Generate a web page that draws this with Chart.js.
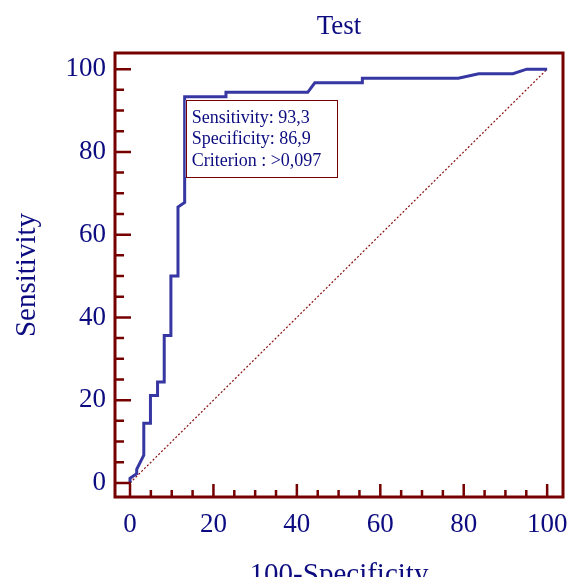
<!DOCTYPE html>
<html>
<head>
<meta charset="utf-8">
<script src="https://cdn.jsdelivr.net/npm/chart.js@4/dist/chart.umd.min.js"></script>
<style>
  html, body { margin: 0; padding: 0; background: #ffffff; }
  canvas { display: block; }
</style>
</head>
<body>
<canvas id="c" width="571" height="577"></canvas>
<script>
// ---- data ----
const chartTitle = 'Test';
const xAxisTitle = '100-Specificity';
const yAxisTitle = 'Sensitivity';
// ROC curve: 100-Specificity (x) and Sensitivity (y)
const rocX = [0, 0, 1.6, 1.6, 3.3, 3.3, 4.9, 4.9, 6.6, 6.6, 8.2, 8.2, 9.8, 9.8, 11.5, 11.5, 13.1, 13.1, 23.0, 23.0, 42.6, 44.3, 55.7, 55.7, 78.7, 83.6, 91.8, 95.1, 100];
const rocY = [0, 1.1, 2.2, 3.3, 6.7, 14.4, 14.4, 21.1, 21.1, 24.4, 24.4, 35.6, 35.6, 50.0, 50.0, 66.7, 67.8, 93.3, 93.3, 94.4, 94.4, 96.7, 96.7, 97.8, 97.8, 98.9, 98.9, 100, 100];
// reference (chance) diagonal
const diagX = [0, 100];
const diagY = [0, 100];
// tick labels
const xTicks = [0, 20, 40, 60, 80, 100];
const yTicks = [0, 20, 40, 60, 80, 100];
const minorStep = 5;
// annotation (optimal criterion)
const criterionX = 13.1;
const criterionY = 93.3;
const annotationLines = ['Sensitivity: 93,3', 'Specificity: 86,9', 'Criterion : >0,097'];

// ---- styles ----
const SERIF = '"Liberation Serif", "Times New Roman", serif';
const NAVY = '#0c0c80';
const MAROON = '#760000';
const CURVE = '#3737a3';

const rocPoints = rocX.map((x, i) => ({ x: x, y: rocY[i] }));
const diagPoints = diagX.map((x, i) => ({ x: x, y: diagY[i] }));

const framePlugin = {
  id: 'frameAndTicks',
  afterDatasetsDraw(chart) {
    const ctx = chart.ctx;
    const a = chart.chartArea;
    const xs = chart.scales.x, ys = chart.scales.y;
    ctx.save();
    // annotation box
    const bx = xs.getPixelForValue(criterionX);
    const by = ys.getPixelForValue(criterionY) + 3;
    const bw = 151, bh = 77;
    ctx.fillStyle = '#ffffff';
    ctx.fillRect(bx + 1, by, bw, bh);
    ctx.strokeStyle = MAROON;
    ctx.lineWidth = 1;
    ctx.strokeRect(Math.round(bx + 1) + 0.5, Math.round(by) + 0.5, bw, bh);
    ctx.fillStyle = NAVY;
    ctx.font = '18px ' + SERIF;
    ctx.textBaseline = 'middle';
    ctx.textAlign = 'left';
    annotationLines.forEach((t, i) => {
      ctx.fillText(t, bx + 7, by + 18 + i * 21.6);
    });
    // ticks (inward)
    ctx.strokeStyle = MAROON;
    ctx.lineWidth = 2.5;
    ctx.beginPath();
    for (let v = 0; v <= 100 + 1e-9; v += minorStep) {
      const major = yTicks.includes(v);
      const py = ys.getPixelForValue(v);
      ctx.moveTo(a.left, py);
      ctx.lineTo(a.left + (major ? 16 : 9), py);
      const px = xs.getPixelForValue(v);
      ctx.moveTo(px, a.bottom);
      ctx.lineTo(px, a.bottom - (major ? 13 : 7));
    }
    ctx.stroke();
    // frame
    ctx.lineWidth = 3;
    ctx.strokeRect(a.left, a.top, a.right - a.left, a.bottom - a.top);
    ctx.restore();
  }
};

new Chart(document.getElementById('c'), {
  type: 'scatter',
  data: {
    datasets: [
      { data: rocPoints, showLine: true, borderColor: CURVE, backgroundColor: CURVE, borderWidth: 3, pointRadius: 0, tension: 0, order: 1 },
      { data: diagPoints, showLine: true, borderColor: '#8a1010', backgroundColor: '#8a1010', borderWidth: 1.2, borderDash: [2, 2], pointRadius: 0, tension: 0, order: 2 }
    ]
  },
  options: {
    responsive: false,
    animation: false,
    devicePixelRatio: 1,
    layout: { padding: { left: 0, right: 8, top: 0, bottom: 0 } },
    plugins: {
      legend: { display: false },
      tooltip: { enabled: false },
      title: {
        display: true, text: chartTitle, fullSize: false, color: NAVY,
        font: { family: SERIF, size: 27, weight: 'normal' },
        padding: { top: 11, bottom: 9.6 }
      }
    },
    scales: {
      x: {
        type: 'linear', min: -3.6, max: 103.8,
        afterBuildTicks: s => { s.ticks = xTicks.map(v => ({ value: v })); },
        afterFit: s => { s.height = 80; s.paddingLeft = 0; s.paddingRight = 0; },
        grid: { display: false, drawTicks: false, tickLength: 0 }, border: { display: false },
        ticks: { color: NAVY, font: { family: SERIF, size: 27 }, padding: 12, maxRotation: 0, autoSkip: false },
        title: { display: true, text: xAxisTitle, color: NAVY, font: { family: SERIF, size: 29 }, padding: { top: 0, bottom: -15.5 } }
      },
      y: {
        type: 'linear', min: -3.4, max: 103.9,
        afterBuildTicks: s => { s.ticks = yTicks.map(v => ({ value: v })); },
        afterFit: s => { s.width = 115; s.paddingTop = 0; s.paddingBottom = 0; },
        grid: { display: false, drawTicks: false, tickLength: 0 }, border: { display: false },
        ticks: { color: NAVY, font: { family: SERIF, size: 27 }, padding: 9, autoSkip: false },
        title: { display: true, text: yAxisTitle, color: NAVY, font: { family: SERIF, size: 29 }, padding: { top: 9.8, bottom: 0 } }
      }
    }
  },
  plugins: [framePlugin]
});
</script>
</body>
</html>
